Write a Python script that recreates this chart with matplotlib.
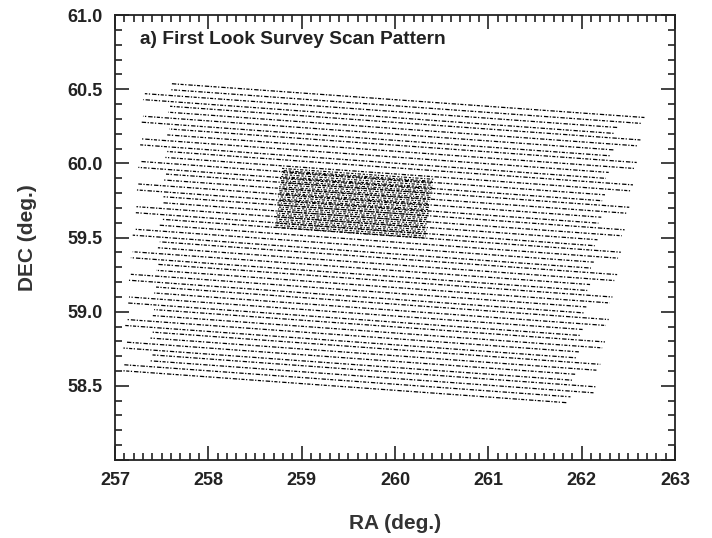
import matplotlib
matplotlib.use("Agg")
import matplotlib.pyplot as plt
from matplotlib.ticker import MultipleLocator

plt.rcParams['font.family'] = ['Liberation Sans', 'DejaVu Sans']

# main survey scan legs (left end / right end, degrees)
main_ra0 = [257.61, 257.59, 257.32, 257.30, 257.59, 257.57, 257.30, 257.28,
            257.58, 257.56, 257.29, 257.27, 257.56, 257.54, 257.27, 257.25,
            257.54, 257.52, 257.25, 257.23, 257.52, 257.50, 257.23, 257.21,
            257.50, 257.48, 257.21, 257.19, 257.48, 257.46, 257.19, 257.17,
            257.46, 257.44, 257.17, 257.15, 257.44, 257.42, 257.15, 257.13,
            257.42, 257.40, 257.13, 257.11, 257.40, 257.38, 257.11, 257.09,
            257.39, 257.37, 257.10, 257.08]
main_dec0 = [60.537, 60.497, 60.470, 60.430, 60.385, 60.345, 60.318, 60.278,
             60.232, 60.192, 60.165, 60.125, 60.080, 60.040, 60.013, 59.973,
             59.928, 59.888, 59.861, 59.821, 59.775, 59.735, 59.708, 59.668,
             59.623, 59.583, 59.556, 59.516, 59.471, 59.431, 59.404, 59.364,
             59.319, 59.279, 59.252, 59.212, 59.166, 59.126, 59.099, 59.059,
             59.014, 58.974, 58.947, 58.907, 58.862, 58.822, 58.795, 58.755,
             58.709, 58.669, 58.642, 58.602]
main_ra1 = [262.68, 262.65, 262.38, 262.35, 262.63, 262.60, 262.34, 262.31,
            262.59, 262.56, 262.29, 262.26, 262.55, 262.52, 262.25, 262.22,
            262.51, 262.48, 262.21, 262.18, 262.46, 262.43, 262.17, 262.14,
            262.42, 262.39, 262.13, 262.10, 262.38, 262.35, 262.09, 262.06,
            262.33, 262.30, 262.05, 262.02, 262.29, 262.26, 262.01, 261.98,
            262.25, 262.22, 261.97, 261.94, 262.20, 262.17, 261.93, 261.90,
            262.16, 262.13, 261.88, 261.85]
main_dec1 = [60.309, 60.269, 60.242, 60.202, 60.158, 60.118, 60.091, 60.051,
             60.006, 59.966, 59.939, 59.899, 59.855, 59.815, 59.788, 59.748,
             59.704, 59.664, 59.637, 59.597, 59.552, 59.512, 59.485, 59.445,
             59.401, 59.361, 59.334, 59.294, 59.250, 59.210, 59.183, 59.143,
             59.099, 59.059, 59.032, 58.992, 58.947, 58.907, 58.880, 58.840,
             58.796, 58.756, 58.729, 58.689, 58.645, 58.605, 58.578, 58.538,
             58.493, 58.453, 58.426, 58.386]

# verification strip (dense block)
ver_ra0 = [258.79, 258.79, 258.78, 258.78, 258.78, 258.77, 258.77, 258.77,
           258.77, 258.76, 258.76, 258.76, 258.76, 258.75, 258.75, 258.75,
           258.75, 258.74, 258.74, 258.74, 258.74, 258.74, 258.73, 258.73,
           258.73, 258.73, 258.73, 258.72, 258.72, 258.72]
ver_dec0 = [59.966, 59.952, 59.939, 59.925, 59.911, 59.898, 59.884, 59.870,
            59.857, 59.843, 59.829, 59.816, 59.802, 59.788, 59.775, 59.761,
            59.747, 59.734, 59.720, 59.706, 59.693, 59.679, 59.665, 59.652,
            59.638, 59.624, 59.611, 59.597, 59.583, 59.570]
ver_ra1 = [260.41, 260.41, 260.40, 260.40, 260.40, 260.39, 260.39, 260.39,
           260.38, 260.38, 260.38, 260.37, 260.37, 260.37, 260.37, 260.36,
           260.36, 260.36, 260.35, 260.35, 260.35, 260.35, 260.34, 260.34,
           260.34, 260.34, 260.33, 260.33, 260.33, 260.33]
ver_dec1 = [59.893, 59.879, 59.866, 59.852, 59.838, 59.825, 59.811, 59.797,
            59.784, 59.770, 59.756, 59.743, 59.729, 59.715, 59.702, 59.688,
            59.674, 59.661, 59.647, 59.633, 59.620, 59.606, 59.592, 59.579,
            59.565, 59.551, 59.538, 59.524, 59.510, 59.497]

xticks = [257, 258, 259, 260, 261, 262, 263]
yticks = [58.0, 58.5, 59.0, 59.5, 60.0, 60.5, 61.0]
ylabels = ['', '58.5', '59.0', '59.5', '60.0', '60.5', '61.0']

fig = plt.figure(figsize=(7.12, 5.38), dpi=100)
ax = fig.add_axes([0.1615, 0.145, 0.7865, 0.827])

# shift the dash phase from line to line so the dots don't stack up in columns
pattern = (3.5, 1.2, 1.0, 1.2, 2.5, 1.2, 1.0, 1.6)
for i in range(len(main_ra0)):
    ax.plot([main_ra0[i], main_ra1[i]], [main_dec0[i], main_dec1[i]],
            color='black', lw=0.9, linestyle=((i * 3.7) % 13.2, pattern))

pattern2 = (2.0, 1.4, 1.0, 1.4, 3.0, 1.6)
for i in range(len(ver_ra0)):
    ax.plot([ver_ra0[i], ver_ra1[i]], [ver_dec0[i], ver_dec1[i]],
            color='black', lw=0.8, linestyle=((i * 4.3) % 10.4, pattern2))

ax.set_xlim(257, 263)
ax.set_ylim(58.0, 61.0)
ax.set_xticks(xticks)
ax.set_xticklabels([str(t) for t in xticks])
ax.set_yticks(yticks)
ax.set_yticklabels(ylabels)
ax.xaxis.set_minor_locator(MultipleLocator(0.1))
ax.yaxis.set_minor_locator(MultipleLocator(0.1))
ax.tick_params(which='both', direction='in', top=True, right=True,
               width=1.2, color='#222222', labelsize=13, labelcolor='#222222')
ax.tick_params(which='major', length=10, pad=9)
ax.tick_params(which='minor', length=5)
for lab in ax.get_xticklabels() + ax.get_yticklabels():
    lab.set_fontweight('bold')
for s in ax.spines.values():
    s.set_linewidth(1.3)
    s.set_color('#222222')

ax.text(0.045, 0.945, 'a) First Look Survey Scan Pattern', transform=ax.transAxes,
        fontsize=13.8, fontweight='bold', color='#222222', va='center', ha='left')
ax.set_xlabel('RA (deg.)', fontsize=15, fontweight='bold', color='#333333', labelpad=18)
ax.set_ylabel('DEC (deg.)', fontsize=15, fontweight='bold', color='#333333', labelpad=22)

fig.savefig('out.png', dpi=100)
